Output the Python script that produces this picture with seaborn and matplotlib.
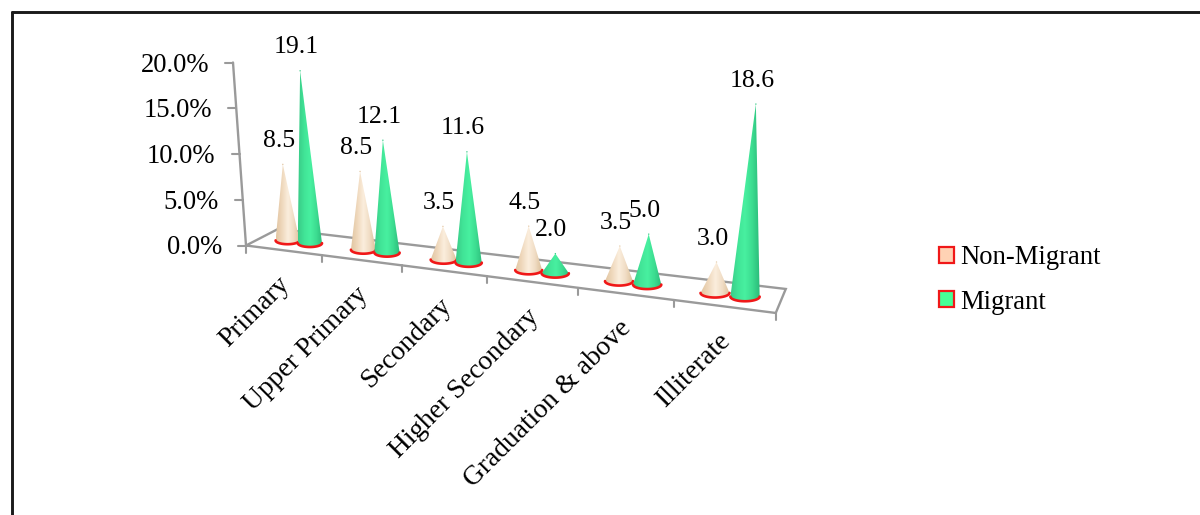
import numpy as np
import pandas as pd
import matplotlib
matplotlib.use("Agg")
import matplotlib.pyplot as plt
from matplotlib.colors import LinearSegmentedColormap
from matplotlib.patches import Polygon, Patch
import seaborn as sns

categories = ["Primary", "Upper Primary", "Secondary", "Higher Secondary",
              "Graduation & above", "Illiterate"]
non_migrant = [8.5, 8.5, 3.5, 4.5, 3.5, 3.0]
migrant = [19.1, 12.1, 11.6, 2.0, 5.0, 18.6]
y_ticks = [0, 5, 10, 15, 20]

GREY = "#9a9a9a"
RED = "#f01818"
SERIF = "Liberation Serif"
FS_VALUE = 18.5
FS_AXIS = 19.2

sns.set_theme(style="white", rc={"font.family": SERIF})

fig = plt.figure(figsize=(12, 5.15), dpi=100)
ax = fig.add_axes([0, 0, 1, 1])
ax.set_xlim(0, 1200)
ax.set_ylim(515, 0)
ax.axis("off")


def floor(u, d):
    """Project a floor position (u along categories, d front-to-back) to the canvas."""
    g = (73.9 * u / (1 - 0.02717 * u)) / 530.0
    fx, fy = 246 + 530 * g, 245.5 + 67.5 * g
    bx, by = 278 + 508 * g, 229 + 60 * g
    return fx + (bx - fx) * d, fy + (by - fy) * d


def rise(u):
    """Canvas pixels per percentage point at floor position u."""
    return 8.85 * (1 + 0.03 * u)


# Tidy table of cones with their projected base and apex
rows = []
for series, values, offset in (("Non-Migrant", non_migrant, -0.15), ("Migrant", migrant, 0.15)):
    for i, value in enumerate(values):
        u = i + 0.5 + offset
        bx, by = floor(u, 0.5)
        h = value * rise(u)
        rows.append(dict(series=series, value=value, u=u, base_x=bx, base_y=by,
                         tip_x=bx + h * (bx - 528) * 0.00026, tip_y=by - h,
                         half=11.8 + 0.5 * u))
cones = pd.DataFrame(rows)

shades = {
    "Non-Migrant": LinearSegmentedColormap.from_list(
        "nm", ["#e2c6a2", "#efd8bc", "#fbeedd", "#f0dcc4", "#dcc09a"]),
    "Migrant": LinearSegmentedColormap.from_list(
        "m", ["#3acb88", "#41e497", "#48f0a0", "#3cdc90", "#2bbb7a"]),
}

# Floor outline and wall axis
fl, fr = floor(0, 0), floor(6, 0)
bl, br = floor(0, 1), floor(6, 1)
ax.plot([fl[0], fr[0], br[0], bl[0], fl[0]], [fl[1], fr[1], br[1], bl[1], fl[1]],
        color=GREY, lw=1.7, zorder=1, solid_joinstyle="miter")
wall_top_x, wall_top_y = 233, fl[1] - 20 * 9.15
ax.plot([fl[0], wall_top_x], [fl[1], wall_top_y], color=GREY, lw=1.7, zorder=1)
for t in y_ticks:
    frac = t / 20
    x = fl[0] + (wall_top_x - fl[0]) * frac
    y = fl[1] + (wall_top_y - fl[1]) * frac
    ax.plot([x - 8, x], [y, y], color=GREY, lw=1.5, zorder=1)
    ax.text(x - 24, y + 2.5, f"{t:.1f}%", ha="right", va="center",
            fontsize=FS_AXIS, color="black", family=SERIF)

# Category ticks and slanted labels
for i in range(7):
    x, y = floor(i, 0)
    ax.plot([x, x], [y, y + 7], color=GREY, lw=1.5, zorder=1)
for i, name in enumerate(categories):
    x, y = floor(i + 0.5, 0)
    ax.text(x - 6, y + 22, name, rotation=45, rotation_mode="anchor", ha="right", va="top",
            fontsize=19.8, color="black", family=SERIF)

# Cones, non-migrant first in each group so the migrant cone sits in front
theta = np.linspace(np.pi, 0, 40)
for i in range(len(categories)):
    for series in ("Non-Migrant", "Migrant"):
        c = cones[cones.series == series].iloc[i]
        ry = c.half * 0.32
        arc_x = c.base_x + c.half * np.cos(theta)
        arc_y = c.base_y + ry * np.sin(theta)
        outline = np.column_stack([np.r_[c.tip_x, arc_x], np.r_[c.tip_y, arc_y]])
        left = min(arc_x.min(), c.tip_x)
        right = max(arc_x.max(), c.tip_x)
        im = ax.imshow(np.linspace(0, 1, 64)[None, :], cmap=shades[series], aspect="auto",
                       extent=(left, right, c.base_y + ry, c.tip_y), zorder=3 + i)
        im.set_clip_path(Polygon(outline, closed=True, transform=ax.transData))
        ax.plot(arc_x, arc_y, color=RED, lw=1.9, zorder=3 + i, solid_capstyle="round")
        ax.annotate(f"{c.value:.1f}", (c.tip_x, c.tip_y), xytext=(-4 * 0.72, 23.5 * 0.72),
                    textcoords="offset points", ha="center", va="center",
                    fontsize=FS_VALUE, color="black", family=SERIF, zorder=20)

ax.set_xlim(0, 1200)
ax.set_ylim(515, 0)

# Apex points plotted through seaborn so hue colours stay tied to the table
sns.scatterplot(data=cones, x="tip_x", y="tip_y", hue="series", ax=ax, s=1, linewidth=0,
                palette={"Non-Migrant": "#e2c6a2", "Migrant": "#3acb88"}, legend=False, zorder=2)
ax.set_xlim(0, 1200)
ax.set_ylim(515, 0)
ax.axis("off")

handles = [Patch(facecolor="#ffd2b4", edgecolor=RED, lw=1.6, label="Non-Migrant"),
           Patch(facecolor="#45ff96", edgecolor=RED, lw=1.6, label="Migrant")]
fig.legend(handles=handles, loc="upper left", bbox_to_anchor=(917.5 / 1200, 1 - 224 / 515),
           frameon=False, prop={"family": SERIF, "size": FS_AXIS}, labelspacing=0.72,
           handlelength=0.58, handleheight=0.58, handletextpad=0.22, borderpad=0.3,
           labelcolor="black")

# Outer frame: top and left edges only
ax.plot([11.5, 1200], [11.5, 11.5], color="#1a1a1a", lw=2.1, zorder=30, clip_on=False)
ax.plot([11.5, 11.5], [11.5, 515], color="#1a1a1a", lw=2.1, zorder=30, clip_on=False)

fig.savefig("out.png", dpi=100)
